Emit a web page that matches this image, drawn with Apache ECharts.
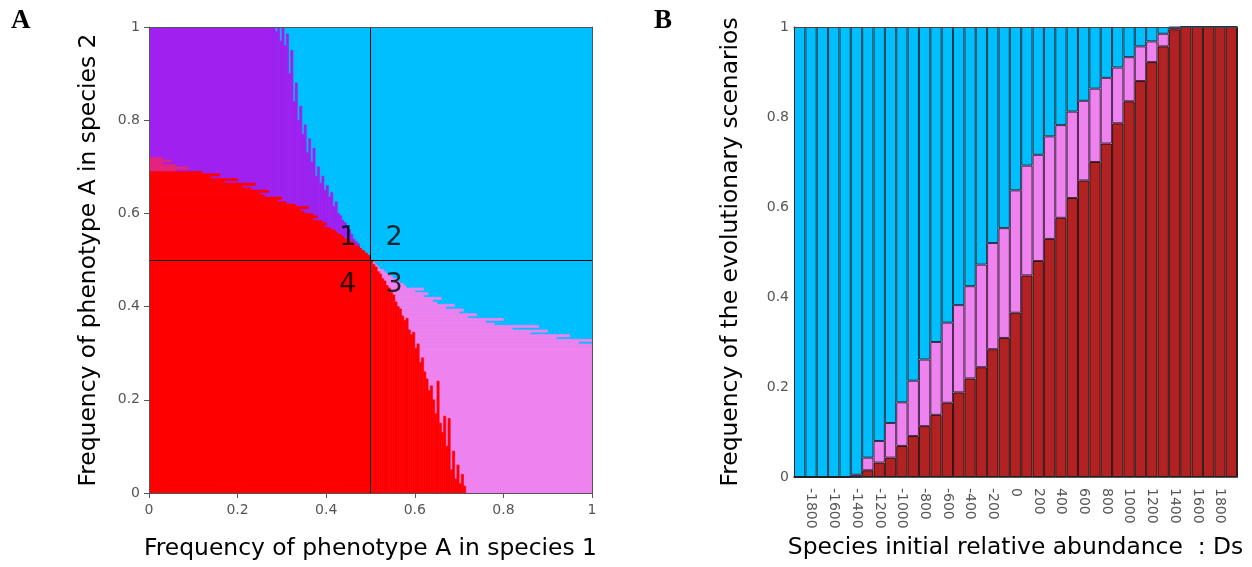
<!DOCTYPE html>
<html>
<head>
<meta charset="utf-8">
<script src="https://cdn.jsdelivr.net/npm/echarts@6/dist/echarts.min.js"></script>
<style>
  html, body { margin: 0; padding: 0; background: #fff; }
  #chart { width: 1252px; height: 567px; }
</style>
</head>
<body>
<div id="chart"></div>
<script>
// ---------- panel A : outcome map (edges) ----------
const step = 0.005;
// rows above y = 0.5 : [row bottom y, red reaches x]
const redRows = [
  [0.500, 0.500], [0.505, 0.499], [0.510, 0.493], [0.515, 0.487], [0.520, 0.480],
  [0.525, 0.475], [0.530, 0.465], [0.535, 0.460], [0.540, 0.450], [0.545, 0.440],
  [0.550, 0.435], [0.555, 0.425], [0.560, 0.420], [0.565, 0.410], [0.570, 0.395],
  [0.575, 0.400], [0.580, 0.390], [0.585, 0.370], [0.590, 0.380], [0.595, 0.370],
  [0.600, 0.350], [0.605, 0.340], [0.610, 0.360], [0.615, 0.330], [0.620, 0.310],
  [0.625, 0.290], [0.630, 0.300], [0.635, 0.260], [0.640, 0.250], [0.645, 0.270],
  [0.650, 0.230], [0.655, 0.210], [0.660, 0.240], [0.665, 0.170], [0.670, 0.200],
  [0.675, 0.140], [0.680, 0.160], [0.685, 0.120]
];
// faint red streaks at the top of the red area : [row bottom y, reaches x]
const redFadeRows = [
  [0.690, 0.060], [0.695, 0.090], [0.700, 0.060], [0.705, 0.030], [0.710, 0.050], [0.715, 0.030]
];
// columns right of x = 0.5 : [column left x, red reaches y]
const redCols = [
  [0.500, 0.500], [0.505, 0.490], [0.510, 0.485], [0.515, 0.475], [0.520, 0.470],
  [0.525, 0.460], [0.530, 0.455], [0.535, 0.445], [0.540, 0.440], [0.545, 0.430],
  [0.550, 0.425], [0.555, 0.410], [0.560, 0.400], [0.565, 0.395], [0.570, 0.380],
  [0.575, 0.370], [0.580, 0.375], [0.585, 0.350], [0.590, 0.340], [0.595, 0.345],
  [0.600, 0.310], [0.605, 0.320], [0.610, 0.280], [0.615, 0.290], [0.620, 0.260],
  [0.625, 0.245], [0.630, 0.220], [0.635, 0.230], [0.640, 0.200], [0.645, 0.170],
  [0.650, 0.240], [0.655, 0.150], [0.660, 0.130], [0.665, 0.165], [0.670, 0.100],
  [0.675, 0.160], [0.680, 0.050], [0.685, 0.090], [0.690, 0.030], [0.695, 0.060],
  [0.700, 0.020], [0.705, 0.040], [0.710, 0.015]
];
// columns left of x = 0.5 : [column left x, purple reaches y]
const purpleSolidTo = 0.28;
const purpleCols = [
  [0.280, 1.000], [0.285, 0.990], [0.290, 1.000], [0.295, 0.970], [0.300, 1.000],
  [0.305, 0.960], [0.310, 0.985], [0.315, 0.900], [0.320, 0.950], [0.325, 0.840],
  [0.330, 0.880], [0.335, 0.800], [0.340, 0.830], [0.345, 0.770], [0.350, 0.790],
  [0.355, 0.730], [0.360, 0.760], [0.365, 0.710], [0.370, 0.740], [0.375, 0.680],
  [0.380, 0.700], [0.385, 0.665], [0.390, 0.680], [0.395, 0.650], [0.400, 0.660],
  [0.405, 0.635], [0.410, 0.645], [0.415, 0.615], [0.420, 0.625], [0.425, 0.600],
  [0.430, 0.595], [0.435, 0.585], [0.440, 0.580], [0.445, 0.570], [0.450, 0.565],
  [0.455, 0.555], [0.460, 0.545], [0.465, 0.540], [0.470, 0.535], [0.475, 0.525],
  [0.480, 0.520], [0.485, 0.515], [0.490, 0.510], [0.495, 0.505]
];
// rows below y = 0.5 : [row bottom y, violet reaches x]
const violetSolidTo = 0.315;
const violetRows = [
  [0.315, 1.000], [0.320, 0.970], [0.325, 1.000], [0.330, 0.920], [0.335, 0.950],
  [0.340, 0.860], [0.345, 0.900], [0.350, 0.820], [0.355, 0.880], [0.360, 0.780],
  [0.365, 0.760], [0.370, 0.800], [0.375, 0.720], [0.380, 0.740], [0.385, 0.700],
  [0.390, 0.710], [0.395, 0.670], [0.400, 0.690], [0.405, 0.650], [0.410, 0.640],
  [0.415, 0.660], [0.420, 0.620], [0.425, 0.630], [0.430, 0.600], [0.435, 0.620],
  [0.440, 0.580], [0.445, 0.575], [0.450, 0.565], [0.455, 0.560], [0.460, 0.550],
  [0.465, 0.545], [0.470, 0.535], [0.475, 0.530], [0.480, 0.520], [0.485, 0.515],
  [0.490, 0.510], [0.495, 0.505]
];
const crossAt = [0.5, 0.5];
const regionLabels = [[0.449, 0.547, '1'], [0.553, 0.547, '2'], [0.553, 0.446, '3'], [0.449, 0.446, '4']];

// ---------- panel B : stacked frequencies ----------
const abundance = ['-1900', '-1800', '-1700', '-1600', '-1500', '-1400', '-1300', '-1200', '-1100', '-1000',
  '-900', '-800', '-700', '-600', '-500', '-400', '-300', '-200', '-100', '0',
  '100', '200', '300', '400', '500', '600', '700', '800', '900', '1000',
  '1100', '1200', '1300', '1400', '1500', '1600', '1700', '1800', '1900'];
const redFreq = [0, 0, 0, 0, 0, 0.001, 0.015, 0.032, 0.043, 0.069,
  0.091, 0.113, 0.138, 0.165, 0.188, 0.219, 0.244, 0.284, 0.309, 0.365,
  0.448, 0.480, 0.529, 0.576, 0.620, 0.659, 0.700, 0.741, 0.786, 0.835,
  0.880, 0.922, 0.957, 0.995, 1, 1, 1, 1, 1];
const violetFreq = [0, 0, 0, 0, 0, 0.004, 0.028, 0.048, 0.077, 0.097,
  0.123, 0.148, 0.162, 0.178, 0.194, 0.205, 0.228, 0.236, 0.244, 0.272,
  0.244, 0.236, 0.228, 0.206, 0.192, 0.177, 0.163, 0.146, 0.124, 0.098,
  0.077, 0.046, 0.028, 0.004, 0, 0, 0, 0, 0];
const blueFreq = [1, 1, 1, 1, 1, 0.995, 0.957, 0.920, 0.880, 0.834,
  0.786, 0.739, 0.700, 0.657, 0.618, 0.576, 0.528, 0.480, 0.447, 0.363,
  0.308, 0.284, 0.243, 0.218, 0.188, 0.164, 0.137, 0.113, 0.090, 0.067,
  0.043, 0.032, 0.015, 0.001, 0, 0, 0, 0, 0];

const chart = echarts.init(document.getElementById('chart'));

// rects as [x0, y0, x1, y1] in data units
const blueRects = [[0, 0, 1, 1]];
const purpleRects = [[0, 0.5, purpleSolidTo, 1]].concat(purpleCols.map(([x, y]) => [x, 0.5, x + step, y]));
const violetRects = [[0.5, 0, 1, violetSolidTo]].concat(violetRows.map(([y, x]) => [0.5, y, x, y + step]));
const redRects = [[0, 0, 0.5, 0.5]]
  .concat(redRows.map(([y, x]) => [0, y, x, y + step]))
  .concat(redCols.map(([x, y]) => [x, 0, x + step, y]));
const redFadeRects = redFadeRows.map(([y, x]) => [0, y, x, y + step]);

function rectItem(params, api) {
  const a = api.coord([api.value(0), api.value(1)]);
  const b = api.coord([api.value(2), api.value(3)]);
  const c = api.visual('color');
  return {
    type: 'rect',
    shape: { x: a[0], y: b[1], width: b[0] - a[0], height: a[1] - b[1] },
    style: { fill: c, stroke: c, lineWidth: 0.6 }
  };
}
function regionSeries(data, color) {
  return {
    type: 'custom', xAxisIndex: 0, yAxisIndex: 0,
    renderItem: rectItem, clip: true,
    encode: { x: [0, 2], y: [1, 3] },
    itemStyle: { color: color },
    data: data
  };
}

const boxAxis = (grid, pos, color) => ({
  gridIndex: grid, type: 'value', min: 0, max: 1, position: pos, z: 10,
  axisLine: { show: true, onZero: false, lineStyle: { color: color } },
  axisTick: { show: false }, axisLabel: { show: false }, splitLine: { show: false }
});

const option = {
  animation: false,
  textStyle: { fontFamily: 'DejaVu Sans' },
  graphic: [
    { type: 'text', left: 11, top: 8, style: { text: 'A', font: 'bold 27px "Liberation Serif"', fill: '#000' } },
    { type: 'text', left: 654, top: 8, style: { text: 'B', font: 'bold 27px "Liberation Serif"', fill: '#000' } }
  ],
  grid: [
    { left: 149, top: 27, width: 443, height: 466 },
    { left: 794, top: 27, width: 443, height: 450 }
  ],
  xAxis: [
    {
      gridIndex: 0, type: 'value', min: 0, max: 1, interval: 0.2, z: 10,
      axisLine: { onZero: false, lineStyle: { color: '#555' } },
      axisTick: { show: true, length: 5, lineStyle: { color: '#555' } },
      axisLabel: { color: '#555', fontSize: 14, margin: 10 },
      splitLine: { show: false },
      name: 'Frequency of phenotype A in species 1', nameLocation: 'middle', nameGap: 44,
      nameMoveOverlap: false,
      nameTextStyle: { fontSize: 23.4, color: '#000' }
    },
    boxAxis(0, 'top', '#555'),
    {
      gridIndex: 1, type: 'category', data: abundance, z: 10,
      axisLine: { onZero: false, lineStyle: { color: '#222', width: 1.5 } },
      axisTick: { show: false },
      axisLabel: { color: '#555', fontSize: 14, rotate: -90, margin: 11, interval: (i) => i % 2 === 1 },
      name: 'Species initial relative abundance  : Ds', nameLocation: 'middle', nameGap: 59,
      nameMoveOverlap: false,
      nameTextStyle: { fontSize: 23.4, color: '#000' }
    },
    boxAxis(1, 'top', '#444')
  ],
  yAxis: [
    {
      gridIndex: 0, type: 'value', min: 0, max: 1, interval: 0.2, z: 10,
      axisLine: { show: true, onZero: false, lineStyle: { color: '#555' } },
      axisTick: { show: true, length: 5, lineStyle: { color: '#555' } },
      axisLabel: { color: '#555', fontSize: 14, margin: 9 },
      splitLine: { show: false },
      name: 'Frequency of phenotype A in species 2', nameLocation: 'middle', nameGap: 49,
      nameMoveOverlap: false,
      nameTextStyle: { fontSize: 23.4, color: '#000' }
    },
    boxAxis(0, 'right', '#555'),
    {
      gridIndex: 1, type: 'value', min: 0, max: 1, interval: 0.2, z: 10,
      axisLine: { show: true, onZero: false, lineStyle: { color: '#222' } },
      axisTick: { show: false },
      axisLabel: { color: '#555', fontSize: 14, margin: 5 },
      splitLine: { show: false },
      name: 'Frequency of the evolutionary scenarios', nameLocation: 'middle', nameGap: 52,
      nameMoveOverlap: false,
      nameTextStyle: { fontSize: 23.4, color: '#000' }
    },
    boxAxis(1, 'right', '#222')
  ],
  series: [
    regionSeries(blueRects, '#00bfff'),
    regionSeries(purpleRects, '#a020f0'),
    regionSeries(violetRects, '#ee82ee'),
    regionSeries(redFadeRects, 'rgba(255,40,80,0.6)'),
    regionSeries(redRects, '#ff0000'),
    {
      type: 'scatter', xAxisIndex: 0, yAxisIndex: 0,
      symbol: 'circle', symbolSize: 1,
      itemStyle: { color: 'rgba(0,0,0,0)' },
      label: { show: true, position: 'inside', formatter: (p) => p.value[2], fontSize: 27, color: '#000' },
      data: regionLabels,
      markLine: {
        silent: true, symbol: 'none',
        label: { show: false },
        lineStyle: { color: '#000', width: 1, type: 'solid' },
        data: [{ xAxis: crossAt[0] }, { yAxis: crossAt[1] }]
      }
    },
    {
      name: 'red', type: 'bar', stack: 'f', xAxisIndex: 2, yAxisIndex: 2,
      barCategoryGap: '0%',
      itemStyle: { color: '#b22222', borderColor: 'rgba(20,0,0,0.85)', borderWidth: 1 },
      data: redFreq
    },
    {
      name: 'violet', type: 'bar', stack: 'f', xAxisIndex: 2, yAxisIndex: 2,
      barCategoryGap: '0%',
      itemStyle: { color: '#ee82ee', borderColor: 'rgba(40,0,40,0.8)', borderWidth: 1 },
      data: violetFreq
    },
    {
      name: 'blue', type: 'bar', stack: 'f', xAxisIndex: 2, yAxisIndex: 2,
      barCategoryGap: '0%',
      itemStyle: { color: '#00bfff', borderColor: 'rgba(0,30,50,0.85)', borderWidth: 1 },
      data: blueFreq
    }
  ]
};
chart.setOption(option);
</script>
</body>
</html>
